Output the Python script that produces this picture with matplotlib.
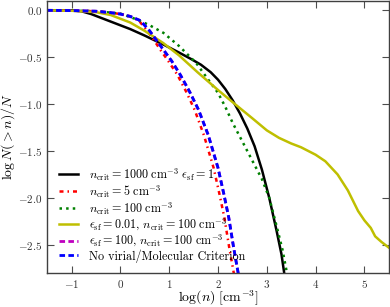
"""
Cumulative density distribution log N(>n)/N for different star formation
criteria (critical density, efficiency, virial/molecular criterion).
"""

import numpy as np
import matplotlib
matplotlib.use("Agg")
import matplotlib.pyplot as plt

# settings
plt.rcParams['font.family'] = 'serif'
plt.rcParams['font.serif'] = ['cmr10', 'DejaVu Serif']
plt.rcParams['mathtext.fontset'] = 'cm'
plt.rcParams['axes.formatter.use_mathtext'] = True
plt.rcParams['axes.unicode_minus'] = True

# data
x_ncrit1000 = [-1.5, -1.0, -0.8, -0.6, -0.4, -0.2, 0.0, 0.2, 0.5, 0.9, 1.2, 1.45,
               1.65, 1.85, 2.0, 2.15, 2.3, 2.45, 2.6, 2.75, 2.9, 3.05, 3.2, 3.3,
               3.37]
y_ncrit1000 = [0.0, 0.0, -0.01, -0.04, -0.08, -0.12, -0.16, -0.2, -0.27, -0.37,
               -0.45, -0.52, -0.58, -0.66, -0.74, -0.84, -0.96, -1.1, -1.26, -1.45,
               -1.7, -2.0, -2.35, -2.6, -2.85]

x_ncrit5 = [-1.5, -1.0, -0.5, -0.2, 0.0, 0.2, 0.38, 0.55, 0.69, 0.83, 0.98, 1.17,
            1.35, 1.52, 1.71, 1.91, 2.03, 2.13, 2.23, 2.34]
y_ncrit5 = [0.0, -0.003, -0.01, -0.025, -0.04, -0.065, -0.11, -0.22, -0.32, -0.43,
            -0.54, -0.69, -0.87, -1.06, -1.33, -1.68, -1.96, -2.21, -2.53, -2.85]

x_ncrit100 = [-1.5, -1.0, -0.5, 0.0, 0.35, 0.6, 0.88, 1.2, 1.55, 1.8, 2.0, 2.15,
              2.3, 2.5, 2.7, 2.9, 3.05, 3.2, 3.32, 3.43]
y_ncrit100 = [0.0, -0.003, -0.01, -0.035, -0.1, -0.16, -0.24, -0.38, -0.56, -0.74,
              -0.88, -1.03, -1.2, -1.4, -1.6, -1.8, -2.0, -2.3, -2.55, -2.85]

x_eps001 = [-1.5, -1.0, -0.5, -0.2, 0.2, 0.5, 0.88, 1.2, 1.58, 2.0, 2.3, 2.7, 3.0,
            3.25, 3.5, 3.7, 4.0, 4.2, 4.45, 4.66, 4.87, 5.0, 5.13, 5.22, 5.35, 5.5]
y_eps001 = [0.0, -0.005, -0.02, -0.05, -0.13, -0.22, -0.35, -0.48, -0.66, -0.85,
            -0.98, -1.15, -1.28, -1.36, -1.42, -1.46, -1.54, -1.61, -1.75, -1.92,
            -2.14, -2.24, -2.32, -2.41, -2.47, -2.53]

x_eps100 = [-1.5, -1.0, -0.5, -0.2, 0.0, 0.2, 0.41, 0.6, 0.74, 0.88, 1.05, 1.23,
            1.42, 1.6, 1.8, 2.0, 2.12, 2.22, 2.32, 2.43]
y_eps100 = [0.0, -0.003, -0.01, -0.025, -0.04, -0.065, -0.11, -0.22, -0.32, -0.42,
            -0.54, -0.69, -0.87, -1.06, -1.33, -1.68, -1.96, -2.21, -2.53, -2.85]

x_novir = [-1.5, -1.0, -0.5, -0.2, 0.0, 0.2, 0.41, 0.6, 0.74, 0.88, 1.05, 1.23,
           1.42, 1.6, 1.8, 2.0, 2.12, 2.22, 2.32, 2.43]
y_novir = [0.0, -0.003, -0.01, -0.025, -0.04, -0.065, -0.11, -0.22, -0.32, -0.42,
           -0.54, -0.69, -0.87, -1.06, -1.33, -1.68, -1.96, -2.21, -2.53, -2.85]

labels = [r'$n_{\rm crit} = 1000\ {\rm cm}^{-3}\ \epsilon_{\rm sf} = 1$',
          r'$n_{\rm crit} = 5\ {\rm cm}^{-3}$',
          r'$n_{\rm crit} = 100\ {\rm cm}^{-3}$',
          r'$\epsilon_{\rm sf} = 0.01,\, n_{\rm crit} = 100\ {\rm cm}^{-3}$',
          r'$\epsilon_{\rm sf} = 100,\, n_{\rm crit} = 100\ {\rm cm}^{-3}$',
          'No virial/Molecular Criterion']


def main():
    fig = plt.figure(figsize=(3.9, 3.07), dpi=100)
    ax = fig.add_axes([0.121, 0.111, 0.876, 0.886])

    ax.plot(x_ncrit1000, y_ncrit1000, color='k', ls='-', lw=1.8, label=labels[0])
    ax.plot(x_ncrit5, y_ncrit5, color='r', ls='-.', dashes=(1.6, 1.6, 0.6, 1.6),
            lw=1.8, label=labels[1])
    ax.plot(x_ncrit100, y_ncrit100, color='g', ls=':', lw=1.8, label=labels[2])
    ax.plot(x_eps001, y_eps001, color='y', ls='-', lw=1.8, label=labels[3])
    ax.plot(x_eps100, y_eps100, color='m', ls='--', dashes=(2, 1.2), lw=2.0,
            label=labels[4])
    ax.plot(x_novir, y_novir, color='b', ls='--', dashes=(2, 1.2), lw=2.0,
            label=labels[5])

    ax.set_xlim(-1.5, 5.5)
    ax.set_ylim(-2.8, 0.1)
    ax.set_xticks(np.arange(-1, 6, 1))
    ax.set_yticks(np.arange(-2.5, 0.01, 0.5))
    ax.yaxis.set_major_formatter(matplotlib.ticker.FormatStrFormatter('$%.1f$'))
    ax.xaxis.set_major_formatter(matplotlib.ticker.FormatStrFormatter('$%d$'))
    ax.tick_params(direction='in', top=True, right=True, length=5, width=0.8,
                   labelsize=8, colors='0.3', labelcolor='0.2')
    for sp in ax.spines.values():
        sp.set_linewidth(1.0)
        sp.set_color('0.25')

    ax.set_xlabel(r'$\log(n)\ [{\rm cm}^{-3}]$', fontsize=10, labelpad=-1)
    ax.set_ylabel(r'$\log N(>n)/N$', fontsize=10, labelpad=1)

    ax.legend(loc='lower left', frameon=False, fontsize=8.7, handlelength=1.57,
              handletextpad=0.9, labelspacing=0.0, borderaxespad=0.0,
              bbox_to_anchor=(0.02, 0.02))

    fig.savefig('out.png', dpi=100)


if __name__ == "__main__":
    main()
